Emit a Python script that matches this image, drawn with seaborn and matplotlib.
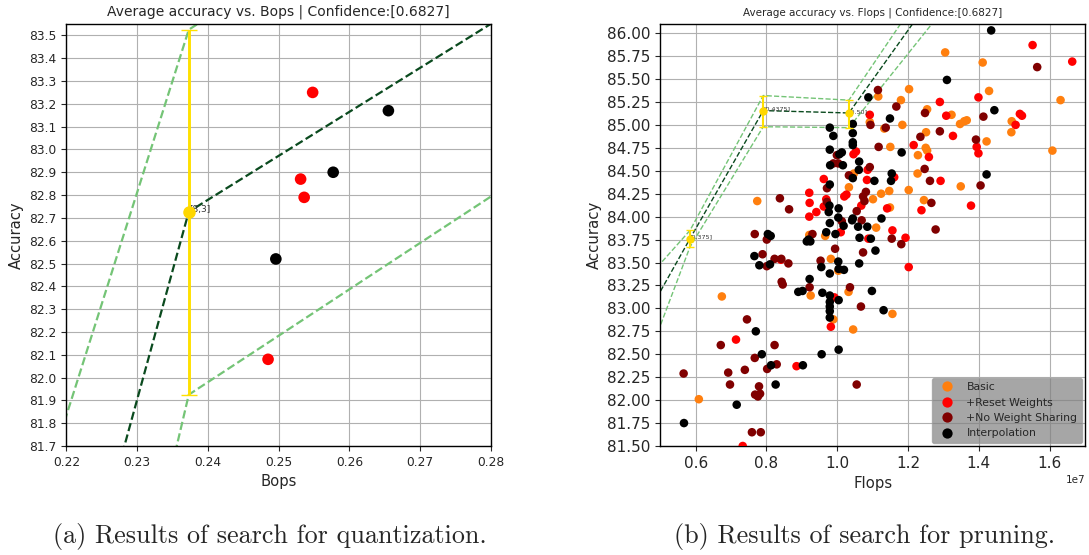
import numpy as np
import pandas as pd
import matplotlib.pyplot as plt
import seaborn as sns

# --- (a) quantization search ---
q_reset_bops = [0.2548, 0.2531, 0.2536, 0.2485]
q_reset_acc = [83.25, 82.87, 82.79, 82.08]
q_interp_bops = [0.2655, 0.2577, 0.2496]
q_interp_acc = [83.17, 82.90, 82.52]

# pareto front (outer points lie outside the visible range)
q_front_bops = [0.2100, 0.2373, 0.3000]
q_front_acc = [79.645, 82.727, 83.937]
q_front_up = [80.855, 83.525, 84.780]
q_front_lo = [78.321, 81.925, 83.201]
q_front_label = [None, "[8,3]", None]

# --- (b) pruning search (flops in 1e7) ---
p_basic_flops = [1.305, 1.411, 1.429, 1.631, 1.116, 1.203, 1.180, 1.254, 1.323, 1.092,
                 1.133, 1.184, 1.347, 1.359, 1.366, 1.493, 1.492, 1.251, 1.422, 1.150,
                 1.250, 1.254, 1.228, 1.608, 1.047, 1.227, 1.349, 1.033, 1.124, 1.147,
                 1.101, 1.202, 0.774, 1.149, 1.245, 1.110, 0.966, 0.921, 0.982, 1.003,
                 1.032, 0.674, 0.925, 0.989, 1.156, 1.045, 0.609]
p_basic_acc = [85.79, 85.68, 85.37, 85.27, 85.31, 85.39, 85.27, 85.17, 85.11, 85.03,
               84.96, 85.00, 85.01, 85.04, 85.05, 85.04, 84.92, 84.92, 84.82, 84.76,
               84.75, 84.72, 84.67, 84.72, 84.47, 84.47, 84.33, 84.32, 84.25, 84.28,
               84.19, 84.29, 84.17, 84.10, 84.18, 83.88, 83.79, 83.80, 83.54, 83.41,
               83.18, 83.13, 83.14, 82.88, 82.94, 82.77, 82.01]

p_reset_flops = [1.552, 1.664, 1.399, 1.290, 1.308, 1.092, 1.504, 1.516, 1.522, 1.327,
                 1.216, 1.394, 1.399, 1.259, 1.053, 1.046, 1.086, 1.161, 1.084, 0.962,
                 1.292, 1.020, 1.026, 0.921, 0.969, 0.922, 0.941, 0.962, 0.921, 1.068,
                 1.141, 1.238, 1.378, 1.156, 1.010, 1.088, 1.193, 0.841, 1.202, 0.992,
                 0.982, 0.714, 0.885, 0.733]
p_reset_acc = [85.87, 85.69, 85.30, 85.25, 85.10, 85.11, 85.00, 85.12, 85.10, 84.88,
               84.78, 84.76, 84.69, 84.65, 84.71, 84.68, 84.51, 84.43, 84.40, 84.41,
               84.39, 84.22, 84.24, 84.26, 84.19, 84.15, 84.05, 84.11, 84.00, 84.12,
               84.09, 84.07, 84.12, 83.85, 83.83, 83.76, 83.77, 83.53, 83.45, 83.12,
               82.80, 82.66, 82.37, 81.50]

p_noshare_flops = [1.565, 1.115, 1.167, 1.248, 1.094, 1.137, 1.413, 1.290, 1.235, 1.392,
                   1.117, 0.999, 1.003, 0.989, 1.092, 1.033, 1.247, 0.971, 1.262, 1.405,
                   1.081, 1.073, 0.838, 0.864, 0.971, 1.055, 1.077, 1.266, 1.013, 1.069,
                   1.278, 0.930, 0.767, 0.801, 1.154, 1.181, 0.994, 1.073, 0.789, 0.823,
                   0.842, 0.862, 0.953, 0.801, 0.843, 0.846, 0.922, 1.036, 1.067, 0.745,
                   0.671, 0.823, 0.767, 0.692, 0.739, 0.802, 0.829, 0.566, 0.697, 0.779,
                   1.055, 0.768, 0.776, 0.782, 0.759, 0.784]
p_noshare_acc = [85.63, 85.38, 85.20, 85.13, 85.00, 84.97, 85.09, 84.93, 84.87, 84.84,
                 84.76, 84.67, 84.58, 84.58, 84.54, 84.45, 84.52, 84.31, 84.39, 84.34,
                 84.27, 84.22, 84.20, 84.08, 84.16, 84.06, 84.17, 84.15, 83.95, 83.96,
                 83.86, 83.81, 83.81, 83.75, 83.76, 83.70, 83.65, 83.61, 83.59, 83.54,
                 83.54, 83.49, 83.52, 83.46, 83.29, 83.26, 83.23, 83.23, 83.02, 82.88,
                 82.60, 82.60, 82.46, 82.30, 82.33, 82.34, 82.39, 82.29, 82.17, 82.15,
                 82.17, 82.06, 82.04, 82.07, 81.65, 81.65]

p_interp_flops = [1.435, 1.310, 1.444, 1.088, 1.149, 1.044, 0.979, 0.989, 1.044, 1.044,
                  1.044, 0.979, 1.182, 1.013, 1.006, 1.062, 0.980, 1.016, 1.061, 1.154,
                  1.152, 1.105, 1.044, 0.979, 1.422, 0.978, 1.004, 0.976, 0.979, 1.003,
                  1.044, 1.042, 1.018, 1.125, 1.059, 1.085, 0.969, 0.995, 0.919, 0.924,
                  0.914, 0.804, 0.812, 1.095, 1.063, 1.108, 0.766, 1.003, 0.780, 0.810,
                  0.955, 1.062, 0.979, 1.004, 1.019, 0.922, 0.890, 0.902, 0.958, 1.098,
                  0.979, 1.004, 0.979, 0.979, 0.979, 0.979, 1.131, 0.770, 0.787, 0.956,
                  1.004, 0.813, 0.903, 0.826, 0.716, 0.567]
p_interp_acc = [86.03, 85.49, 85.16, 85.30, 85.07, 85.01, 84.97, 84.88, 84.91, 84.81,
                84.78, 84.73, 84.70, 84.70, 84.68, 84.60, 84.56, 84.56, 84.51, 84.47,
                84.39, 84.39, 84.42, 84.35, 84.46, 84.12, 84.09, 84.05, 83.93, 83.99,
                83.98, 83.96, 83.90, 83.98, 83.89, 83.89, 83.83, 83.81, 83.75, 83.73,
                83.73, 83.81, 83.79, 83.76, 83.77, 83.63, 83.57, 83.51, 83.47, 83.48,
                83.45, 83.49, 83.38, 83.43, 83.42, 83.32, 83.18, 83.19, 83.17, 83.19,
                83.14, 83.09, 83.07, 83.02, 82.97, 82.90, 82.98, 82.75, 82.50, 82.50,
                82.55, 82.38, 82.38, 82.17, 81.95, 81.75]

p_front_flops = [0.450, 0.584, 0.791, 1.033, 1.400]
p_front_acc = [82.84, 83.76, 85.156, 85.13, 87.11]
p_front_up = [83.27, 83.85, 85.32, 85.27, 87.36]
p_front_lo = [82.30, 83.67, 84.98, 84.97, 86.74]
p_front_label = [None, "[0.375]", "[0.4375]", "[0.50]", None]

methods = ["Basic", "+Reset Weights", "+No Weight Sharing", "Interpolation"]
palette = {"Basic": "#ff7f0e", "+Reset Weights": "#ff0000",
           "+No Weight Sharing": "#800000", "Interpolation": "#000000"}
dark_green = "#0a4a1e"
light_green = "#74c476"

sns.set_style("ticks", {"axes.grid": True, "grid.color": "#b0b0b0",
                        "axes.edgecolor": "black"})
plt.rcParams['font.family'] = ['DejaVu Sans']

fig = plt.figure(figsize=(10.89, 5.55), dpi=100)
ax1 = fig.add_axes([0.0609, 0.1964, 0.3900, 0.7604])
ax2 = fig.add_axes([0.6063, 0.1964, 0.3900, 0.7604])


def draw_front(ax, xs, mid, up, lo, labels, lw, capsize, ms, fs):
    ax.plot(xs, up, "--", color=light_green, lw=lw, zorder=2)
    ax.plot(xs, lo, "--", color=light_green, lw=lw, zorder=2)
    ax.plot(xs, mid, "--", color=dark_green, lw=lw, zorder=2)
    for x, m, u, l, lab in zip(xs, mid, up, lo, labels):
        if lab is None:
            continue
        ax.errorbar([x], [m], yerr=[[m - l], [u - m]], fmt="o", color="gold",
                    ecolor="#ffe000", elinewidth=lw + 0.5, capsize=capsize, ms=ms,
                    zorder=4)
        ax.text(x, m, lab, fontsize=fs, color="#333333", zorder=3)


# (a)
q_df = pd.DataFrame({
    "Bops": q_reset_bops + q_interp_bops,
    "Accuracy": q_reset_acc + q_interp_acc,
    "method": ["+Reset Weights"] * len(q_reset_bops) + ["Interpolation"] * len(q_interp_bops),
})
sns.scatterplot(data=q_df, x="Bops", y="Accuracy", hue="method", palette=palette,
                s=70, linewidth=0, legend=False, ax=ax1, zorder=3)
draw_front(ax1, q_front_bops, q_front_acc, q_front_up, q_front_lo, q_front_label,
           lw=1.6, capsize=6, ms=8, fs=6.5)
ax1.set_xlim(0.22, 0.28)
ax1.set_ylim(81.7, 83.55)
ax1.set_xticks(np.arange(0.22, 0.2801, 0.01))
ax1.set_yticks(np.arange(81.7, 83.501, 0.1))
ax1.set_xticklabels(["0.22", "0.23", "0.24", "0.25", "0.26", "0.27", "0.28"])
ax1.tick_params(labelsize=8.8)
ax1.set_xlabel("Bops", fontsize=10.6)
ax1.set_ylabel("Accuracy", fontsize=10.6)
ax1.set_title("Average accuracy vs. Bops | Confidence:[0.6827]", fontsize=10)

# (b)
p_df = pd.DataFrame({
    "Flops": np.array(p_basic_flops + p_reset_flops + p_noshare_flops + p_interp_flops) * 1e7,
    "Accuracy": p_basic_acc + p_reset_acc + p_noshare_acc + p_interp_acc,
    "method": [methods[0]] * len(p_basic_flops) + [methods[1]] * len(p_reset_flops)
              + [methods[2]] * len(p_noshare_flops) + [methods[3]] * len(p_interp_flops),
})
sns.scatterplot(data=p_df, x="Flops", y="Accuracy", hue="method", hue_order=methods,
                palette=palette, s=38, linewidth=0, ax=ax2, zorder=3)
draw_front(ax2, np.array(p_front_flops) * 1e7, p_front_acc, p_front_up, p_front_lo,
           p_front_label, lw=1.0, capsize=3, ms=5, fs=4.6)
ax2.set_xlim(0.5e7, 1.7e7)
ax2.set_ylim(81.5, 86.1)
ax2.set_xticks(np.arange(0.6e7, 1.61e7, 0.2e7))
ax2.set_yticks(np.arange(81.5, 86.01, 0.25))
ax2.yaxis.set_major_formatter(plt.FormatStrFormatter("%.2f"))
ax2.tick_params(labelsize=11)
ax2.xaxis.get_offset_text().set_fontsize(7.5)
ax2.set_xlabel("Flops", fontsize=10.7)
ax2.set_ylabel("Accuracy", fontsize=10.7)
ax2.set_title("Average accuracy vs. Flops | Confidence:[0.6827]", fontsize=7.5)
sns.move_legend(ax2, "lower right", title=None, frameon=True, fontsize=7.8,
                facecolor="gray", edgecolor="#999999", framealpha=0.7,
                borderaxespad=0.3, markerscale=1.2)

for ax in (ax1, ax2):
    ax.set_axisbelow(True)
    for sp in ax.spines.values():
        sp.set_color("black")
        sp.set_linewidth(1.0)

fig.text(270 / 1089, 1 - 537 / 555, "(a) Results of search for quantization.",
         family="cmr10", fontsize=18.8, ha="center", va="center")
fig.text(864 / 1089, 1 - 537 / 555, "(b) Results of search for pruning.",
         family="cmr10", fontsize=18.8, ha="center", va="center")

fig.savefig("out.png", dpi=100)
